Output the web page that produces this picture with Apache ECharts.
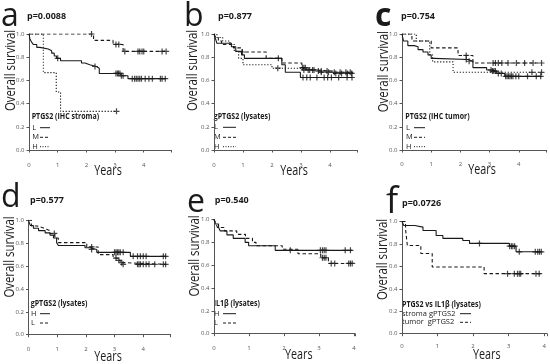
<!DOCTYPE html>
<html><head><meta charset="utf-8">
<script src="https://cdn.jsdelivr.net/npm/echarts@6/dist/echarts.min.js"></script>
<style>html,body{margin:0;padding:0;background:#fff}#c{width:550px;height:364px}</style>
</head><body><div id="c"></div>
<script>
// ---------- text ----------
const panelLetters = ['a','b','c','d','e','f'];
const pValues = ['p=0.0088','p=0.877','p=0.754','p=0.577','p=0.540','p=0.0726'];
const legendTitles = ['PTGS2 (IHC stroma)','gPTGS2 (lysates)','PTGS2 (IHC tumor)','gPTGS2 (lysates)','IL1β (lysates)','PTGS2 vs IL1β (lysates)'];
const yTickLabels = ['0.0','0.2','0.4','0.6','0.8','1.0'];
const xTickLabels = ['0','1','2','3','4'];
const xTitle = 'Years';
const yTitle = 'Overall survival';

// ---------- data: [time, survival] step points, censor times ----------
const a_L = [[0,1],[0.03,0.96],[0.09,0.93],[0.15,0.91],[0.27,0.885],[0.38,0.87],[0.67,0.855],[0.79,0.835],[0.88,0.81],[0.96,0.79],[1.1,0.77],[1.83,0.75],[1.95,0.735],[2.12,0.72],[2.35,0.705],[2.45,0.66],[3.2,0.64],[3.45,0.615],[4.78,0.615]];
const a_L_cens = [1.0,2.3,3.03,3.08,3.12,3.17,3.22,3.28,3.6,3.68,3.74,3.8,3.86,3.92,4.05,4.18,4.3,4.58,4.64,4.75];
const a_M = [[0,1],[2.25,0.945],[2.93,0.91],[3.28,0.85],[4.8,0.85]];
const a_M_cens = [2.18,3.03,3.13,3.34,3.8,3.86,3.94,4.0,4.64,4.78];
const a_H = [[0,1],[0.5,0.667],[0.95,0.5],[1.1,0.333],[3.05,0.333]];
const a_H_cens = [3.05];

const b_L = [[0,1],[0.05,0.96],[0.1,0.92],[0.6,0.89],[0.75,0.85],[0.95,0.82],[1.05,0.79],[2.34,0.735],[2.46,0.67],[2.98,0.625],[4.78,0.625]];
const b_L_cens = [2.22,3.07,3.2,3.32,3.55,3.8,3.92,4.05,4.3,4.59,4.76];
const b_M = [[0,1],[0.06,0.97],[0.15,0.94],[0.26,0.91],[0.67,0.88],[0.97,0.845],[1.8,0.79],[2.34,0.75],[3.03,0.71],[3.2,0.69],[3.5,0.68],[4.1,0.66],[4.8,0.66]];
const b_M_cens = [0.98,3.05,3.1,3.15,3.3,3.45,3.6,3.7,3.9,4.2,4.4,4.6,4.75];
const b_H = [[0,1],[0.1,0.97],[0.3,0.94],[0.55,0.91],[0.7,0.85],[0.85,0.79],[1.0,0.735],[2.0,0.705],[3.0,0.69],[3.6,0.67],[4.8,0.67]];
const b_H_cens = [2.2,3.1,3.25,3.4,3.7,3.95,4.15,4.35,4.55,4.7];

const c_L = [[0,1],[0.05,0.94],[0.2,0.9],[0.42,0.89],[0.55,0.865],[0.72,0.845],[0.89,0.82],[1.0,0.79],[1.1,0.78],[2.26,0.765],[2.43,0.71],[2.9,0.69],[3.06,0.68],[3.25,0.66],[3.52,0.635],[4.78,0.635]];
const c_L_cens = [2.2,2.3,3.05,3.1,3.15,3.2,3.3,3.4,3.55,3.6,3.65,3.7,3.75,3.8,3.9,4.0,4.3,4.6,4.75];
const c_M = [[0,1],[0.34,0.94],[1.0,0.88],[1.92,0.815],[2.43,0.75],[4.78,0.75]];
const c_M_cens = [2.2,3.12,3.2,3.3,3.42,3.63,3.92,4.2,4.49,4.78];
const c_H = [[0,1],[0.49,0.94],[0.95,0.82],[1.05,0.76],[1.75,0.67],[4.78,0.67]];
const c_H_cens = [4.45,4.78];

const d_H = [[0,1],[0.06,0.955],[0.17,0.93],[0.35,0.91],[0.58,0.89],[0.75,0.87],[0.87,0.845],[0.98,0.805],[1.04,0.78],[1.97,0.76],[2.14,0.745],[2.38,0.72],[3.55,0.685],[4.78,0.685]];
const d_H_cens = [2.2,3.0,3.05,3.1,3.15,3.2,3.3,3.65,3.8,3.9,4.0,4.1,4.7,4.78];
const d_L = [[0,1],[0.1,0.95],[0.3,0.935],[0.5,0.92],[0.65,0.91],[0.75,0.885],[0.92,0.845],[1.04,0.805],[2.03,0.767],[2.43,0.7],[2.95,0.67],[3.1,0.65],[3.2,0.63],[3.3,0.615],[4.78,0.615]];
const d_L_cens = [0.9,2.2,3.05,3.15,3.25,3.3,3.8,3.85,3.9,4.0,4.1,4.2,4.4,4.7,4.78];

const e_H = [[0,1],[0.04,0.96],[0.13,0.93],[0.18,0.9],[0.37,0.865],[0.55,0.835],[0.89,0.8],[0.99,0.77],[1.75,0.73],[3.95,0.73]];
const e_H_cens = [2.18,3.04,3.1,3.15,3.2,3.75,3.9];
const e_L = [[0,1],[0.05,0.97],[0.1,0.93],[0.3,0.9],[0.65,0.87],[0.9,0.835],[1.1,0.8],[1.2,0.77],[1.95,0.74],[2.4,0.7],[3.05,0.665],[3.27,0.615],[3.95,0.615]];
const e_L_cens = [3.1,3.15,3.2,3.35,3.45,3.85,3.9,3.95];

const f_S = [[0,1],[0.05,0.965],[0.36,0.95],[0.59,0.92],[0.96,0.875],[1.15,0.85],[1.71,0.83],[1.9,0.805],[3.02,0.78],[3.21,0.73],[3.9,0.73]];
const f_S_cens = [2.18,3.03,3.08,3.12,3.17,3.3,3.75,3.82,3.87,3.92];
const f_T = [[0,1],[0.1,0.93],[0.15,0.786],[0.53,0.715],[0.85,0.595],[2.31,0.535],[3.9,0.535]];
const f_T_cens = [2.97,3.16,3.25,3.3,3.34,3.77,3.86];

// ---------- panel composition ----------
const panelCurves = [
  [{name:'L',data:a_L,cens:a_L_cens,st:'solid'},{name:'M',data:a_M,cens:a_M_cens,st:'dashed'},{name:'H',data:a_H,cens:a_H_cens,st:'dotted'}],
  [{name:'L',data:b_L,cens:b_L_cens,st:'solid'},{name:'M',data:b_M,cens:b_M_cens,st:'dashed'},{name:'H',data:b_H,cens:b_H_cens,st:'dotted'}],
  [{name:'L',data:c_L,cens:c_L_cens,st:'solid'},{name:'M',data:c_M,cens:c_M_cens,st:'dashed'},{name:'H',data:c_H,cens:c_H_cens,st:'dotted'}],
  [{name:'H',data:d_H,cens:d_H_cens,st:'solid'},{name:'L',data:d_L,cens:d_L_cens,st:'dashed'}],
  [{name:'H',data:e_H,cens:e_H_cens,st:'solid'},{name:'L',data:e_L,cens:e_L_cens,st:'dashed'}],
  [{name:'stroma gPTGS2',data:f_S,cens:f_S_cens,st:'solid'},{name:'tumor  gPTGS2',data:f_T,cens:f_T_cens,st:'dashed'}]
];

// ---------- layout (pixels) ----------
const layout = [
  {left:29, top:34, w:142, h:116, xMax:4.95, yOff:2.5, xOff:10, let:[1,17,32], p:[27,16], yt:[10.5,70.5], xt:[108,171.5], lg:[31.7,116.7], rowX:32.3, lnX:[40,50]},
  {left:214, top:34, w:143.5, h:116, xMax:4.95, yOff:2.5, xOff:10, let:[184,17,32], p:[218,16], yt:[193,70.5], xt:[294,171.5], lg:[213.7,116.7], rowX:214, lnX:[223,236]},
  {left:402, top:34, w:144.5, h:116, xMax:4.95, yOff:2.5, xOff:9.5, let:[375,17,32], p:[401,16.7], yt:[383.5,71.7], xt:[482,170], lg:[405.3,116.7], rowX:406, lnX:[414,425]},
  {left:28.5, top:220.3, w:142, h:114.4, xMax:4.95, yOff:2.5, xOff:10, let:[1,198,32], p:[30,200], yt:[10,257], xt:[108,357], lg:[30.7,303.7], rowX:31, lnX:[40,50]},
  {left:214, top:219.5, w:141, h:114.2, xMax:4.03, yOff:2.5, xOff:10, let:[187,202.7,32], p:[214.7,200], yt:[194.7,256], xt:[298.8,355], lg:[213.7,303.7], rowX:214, lnX:[223,236]},
  {left:402, top:221.5, w:145, h:112.2, xMax:4.08, yOff:2.5, xOff:7.7, let:[386,202.7,36], p:[402,203.7], yt:[383,259.5], xt:[486.8,355], lg:[402,304.7], rowX:402, lnX:[460,471]}
];
const rowDy = [[127.7,137.3,146.7],[127.3,137.3,146.7],[127.7,137.3,146.7],[313.7,323],[313.7,323],[313.7,322.3]];

const FONT = "'Open Sans', 'Liberation Sans', sans-serif";
const INK = '#1a1a1a';
const AX = '#555';
const dashOf = {solid:'solid', dashed:[3.5,2.5], dotted:[1.2,1.8]};
const PLUS = 'path://M4,0H6V4H10V6H6V10H4V6H0V4H4Z';

function survAt(curve, t){ let s = curve[0][1]; for (const [tt,ss] of curve) if (tt <= t) s = ss; return s; }

const grids=[], xAxes=[], yAxes=[], series=[], graphics=[];
layout.forEach((L,i)=>{
  grids.push({left:L.left, top:L.top, width:L.w, height:L.h, containLabel:false, outerBoundsMode:'none'});
  xAxes.push({type:'value', gridIndex:i, min:0, max:L.xMax, interval:1, offset:L.xOff,
    axisLine:{show:true, lineStyle:{color:AX, width:1}},
    axisTick:{show:true, length:2.5, lineStyle:{color:AX}},
    axisLabel:{fontSize:6, color:AX, margin:2, fontFamily:FONT,
      formatter:v=>{const k=Math.round(v); return (Math.abs(v-k)<1e-6 && xTickLabels[k]!==undefined)?xTickLabels[k]:'';}},
    splitLine:{show:false}});
  yAxes.push({type:'value', gridIndex:i, min:0, max:1, interval:0.2, offset:L.yOff,
    axisLine:{show:true, lineStyle:{color:AX, width:1}},
    axisTick:{show:true, length:2.5, lineStyle:{color:AX}},
    axisLabel:{fontSize:6, color:AX, margin:2, fontFamily:FONT,
      formatter:v=>yTickLabels[Math.round(v*5)]},
    splitLine:{show:false}});
  panelCurves[i].forEach(c=>{
    series.push({type:'line', xAxisIndex:i, yAxisIndex:i, step:'end', data:c.data, showSymbol:false, silent:true,
      lineStyle:{color:INK, width:1.1, type:dashOf[c.st]}});
    series.push({type:'scatter', xAxisIndex:i, yAxisIndex:i, symbol:PLUS, symbolSize:6, silent:true,
      itemStyle:{color:INK}, data:c.cens.map(t=>[t, survAt(c.data,t)])});
  });
  // texts
  const T=(x,y,text,o)=>graphics.push(Object.assign({type:'text', x, y, silent:true,
      style:Object.assign({text, fill:INK, fontFamily:FONT, fontSize:8, align:'left', verticalAlign:'middle'}, o.style||{})}, o.el||{}));
  T(L.let[0], L.let[1], panelLetters[i], {style:{fontSize:L.let[2], fontWeight: i===2?'bold':'normal'}});
  T(L.p[0], L.p[1], pValues[i], {style:{fontSize:9, fontWeight:'bold'}});
  T(L.yt[0], L.yt[1], yTitle, {style:{fontSize:15, align:'center'}, el:{rotation:Math.PI/2, scaleX:0.76}});
  T(L.xt[0], L.xt[1], xTitle, {style:{fontSize:14, align:'center'}, el:{scaleX:0.77}});
  T(L.lg[0], L.lg[1], legendTitles[i], {style:{fontSize:8, fontWeight:'bold'}, el:{scaleX:0.88}});
  panelCurves[i].forEach((c,k)=>{
    const y = rowDy[i][k];
    T(L.rowX, y, c.name, {style:{fontSize:7.5}});
    graphics.push({type:'line', silent:true, shape:{x1:L.lnX[0], y1:y, x2:L.lnX[1], y2:y},
      style:{stroke:INK, lineWidth:1, lineDash: c.st==='solid'?null:(c.st==='dashed'?[3,2]:[1,1.5])}});
  });
});

const chart = echarts.init(document.getElementById('c'), null, {renderer:'canvas'});
chart.setOption({animation:false, backgroundColor:'#fff', grid:grids, xAxis:xAxes, yAxis:yAxes, series, graphic:graphics});
</script></body></html>
